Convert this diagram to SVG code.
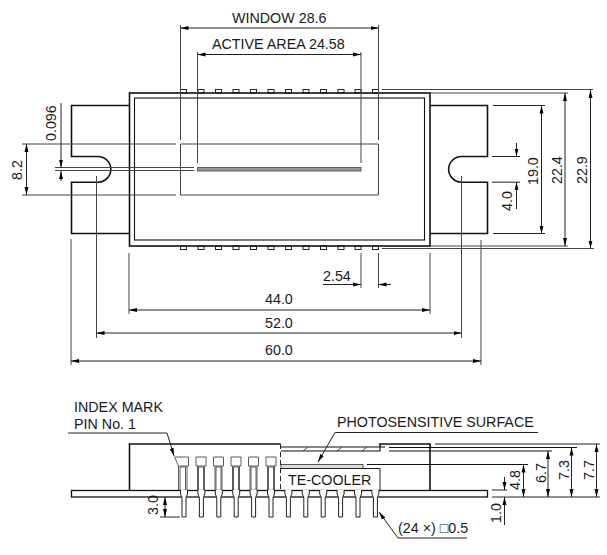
<svg xmlns="http://www.w3.org/2000/svg" xmlns:xlink="http://www.w3.org/1999/xlink" width="607" height="555" viewBox="0 0 607 555">
<style>
text{font-family:"Liberation Sans",Arial,sans-serif;font-size:14.3px;fill:#1a1a1a}
.o{fill:none;stroke:#111;stroke-width:1.6}
.b{fill:none;stroke:#111;stroke-width:1.1}
.t{fill:none;stroke:#222;stroke-width:1}
.g{fill:none;stroke:#444;stroke-width:1}
.a{fill:none;stroke:#222;stroke-width:1;marker-end:url(#ah)}
.s{fill:none;stroke:#222;stroke-width:1;marker-start:url(#ah);marker-end:url(#ah)}
</style>
<defs>
<marker id="ah" viewBox="0 0 8 5" refX="8" refY="2.500" markerWidth="8" markerHeight="5" markerUnits="userSpaceOnUse" orient="auto-start-reverse"><path d="M0 .5L8 2.500L0 4.500Z" fill="#000"/></marker>
<g id="tp"><rect x="0" y="0" width="6" height="3.500" fill="#fff" stroke="#222" stroke-width="1"/></g>
<g id="sp"><path fill="none" stroke="#333" stroke-width=".8" d="M-5 9V0H5V9M-5 9H5M-3.500 33V9M3.500 33V9M-2.500 33V10H2.500V33"/></g>
<g id="lead"><path d="M-3.500 490V494L-2 497.500V517H2V497.500L3.500 494V490" fill="#fff" stroke="#222" stroke-width="1"/></g>
</defs>
<g id="top-view">
<g id="pins-top">
<use xlink:href="#tp" x="180.500" y="89.500"/><use xlink:href="#tp" x="198" y="89.500"/><use xlink:href="#tp" x="215.500" y="89.500"/><use xlink:href="#tp" x="233" y="89.500"/><use xlink:href="#tp" x="250.500" y="89.500"/><use xlink:href="#tp" x="268" y="89.500"/><use xlink:href="#tp" x="285.500" y="89.500"/><use xlink:href="#tp" x="303" y="89.500"/><use xlink:href="#tp" x="320.500" y="89.500"/><use xlink:href="#tp" x="338" y="89.500"/><use xlink:href="#tp" x="355" y="89.500"/><use xlink:href="#tp" x="372.500" y="89.500"/>
<use xlink:href="#tp" x="180.500" y="246"/><use xlink:href="#tp" x="198" y="246"/><use xlink:href="#tp" x="215.500" y="246"/><use xlink:href="#tp" x="233" y="246"/><use xlink:href="#tp" x="250.500" y="246"/><use xlink:href="#tp" x="268" y="246"/><use xlink:href="#tp" x="285.500" y="246"/><use xlink:href="#tp" x="303" y="246"/><use xlink:href="#tp" x="320.500" y="246"/><use xlink:href="#tp" x="338" y="246"/><use xlink:href="#tp" x="355" y="246"/><use xlink:href="#tp" x="372.500" y="246"/>
</g>
<path id="flange-left" class="o" d="M129 105.500H71.500V156.500H98A12.800 12.800 0 0 1 98 182.200H71.500V233.500H129"/>
<path id="flange-right" class="o" d="M430 105.500H487.500V156.500H461.500A12.800 12.800 0 0 0 461.500 182.200H487.500V233.500H430"/>
<rect id="body" x="129.500" y="93" width="300.500" height="153" class="o"/>
<rect id="body-inner" x="134.500" y="98" width="290" height="142" class="b"/>
<rect id="active-bar" x="197.500" y="167.500" width="163.500" height="3.500" fill="#999" stroke="#444" stroke-width=".8"/>
</g>
<g id="connectors">
<path class="g" d="M180.500 25V140M378.500 25V140M197.500 52V163M361 52V163M180.500 144V195M378.500 144V195M22 144H176M180.500 144H378.500M22 195H176M180.500 195H378.500M55 167.500H194M55 170.500H194M96.500 176V338M461.500 176V338M71 239V365M481 240V365M129 253V314M430 253V314M361 253V288M378.500 253V288M382 89.500H593M430 93H568M382 248.500H594M430 246H568"/>
<path class="t" d="M493 105.500H545M493 233.500H545M492 156.500H520M492 182.200H520"/>
<path class="s" d="M180.500 28H378.500"/><path class="s" d="M197.500 54.500H361"/>
<path class="s" d="M541.500 105.500V233.500"/><path class="s" d="M565 93V246"/><path class="s" d="M590.500 90V248.500"/>
<path class="s" d="M26.500 144V195"/><path class="s" d="M129 310H430"/><path class="s" d="M96.500 333H461.500"/><path class="s" d="M71 361H481"/>
<path class="a" d="M61 103V167.500"/><path class="a" d="M61 181V171"/>
<path class="a" d="M516.500 143V156.500"/><path class="a" d="M516.500 209V182.200"/>
<path class="a" d="M323 284.500H361"/><path class="a" d="M391 284.500H378.500"/>
</g>
<g id="side-view">
<path id="side-body" class="o" d="M129.500 490V444H280.500M380 447V444H430V490"/>
<rect id="base-plate" x="71.500" y="490.500" width="416" height="6.500" fill="#fff" class="o" style="stroke-width:1.3"/>
<path class="b" d="M281 447H380V451H281M385 447H380M389 447.500H577M389 451H552M367 464.500H528"/>
<path class="g" d="M303 451L308 447M337 451L342 447M362 451L367 447"/>
<path class="t" stroke-dasharray="5 3" d="M280.500 444V490"/>
<rect x="281" y="464.500" width="82" height="4" fill="#ddd" stroke="#333" stroke-width=".8"/>
<path id="te-cooler-box" class="t" d="M281 468.500H380V490"/>
<g id="inner-pins">
<path fill="none" stroke="#333" stroke-width=".8" d="M178.500 490V466L174.500 457H188.500V466H178.500M187 490V466M180 490V467H185.500V490"/>
<use xlink:href="#sp" x="201" y="457"/><use xlink:href="#sp" x="218.500" y="457"/><use xlink:href="#sp" x="236" y="457"/><use xlink:href="#sp" x="253.500" y="457"/><use xlink:href="#sp" x="271" y="457"/>
</g>
<g id="leads">
<use xlink:href="#lead" x="184"/><use xlink:href="#lead" x="201.400"/><use xlink:href="#lead" x="218.800"/><use xlink:href="#lead" x="236.200"/><use xlink:href="#lead" x="253.600"/><use xlink:href="#lead" x="271"/><use xlink:href="#lead" x="288.400"/><use xlink:href="#lead" x="305.800"/><use xlink:href="#lead" x="323.200"/><use xlink:href="#lead" x="340.600"/><use xlink:href="#lead" x="358"/><use xlink:href="#lead" x="375.400"/>
</g>
<path class="t" d="M435 444H600M492 497H600M492 490H507M160 517H180"/>
<path class="s" d="M165 497V517"/><path class="s" d="M596.500 444V497"/><path class="s" d="M571.500 447.500V497"/><path class="s" d="M548 451V497"/><path class="s" d="M523.500 464.500V497"/>
<path class="a" d="M504.500 477V490"/><path class="a" d="M504.500 525V497"/>
<path class="a" d="M68 433H167L174 456"/>
<path class="a" d="M538 432.500H335L318 462"/>
<path class="a" d="M467 538H398L379 512"/>
</g>
<g id="labels">
<text x="232" y="23">WINDOW 28.6</text>
<text x="212" y="49">ACTIVE AREA 24.58</text>
<text x="323" y="281">2.54</text>
<text x="265" y="304">44.0</text>
<text x="265" y="328">52.0</text>
<text x="265" y="355">60.0</text>
<text transform="translate(56 141) rotate(-90)">0.096</text>
<text transform="translate(22 180) rotate(-90)">8.2</text>
<text transform="translate(512 211) rotate(-90)">4.0</text>
<text transform="translate(537.500 185) rotate(-90)">19.0</text>
<text transform="translate(561.500 184) rotate(-90)">22.4</text>
<text transform="translate(587 184) rotate(-90)">22.9</text>
<text x="74" y="412">INDEX MARK</text>
<text x="74" y="429">PIN No. 1</text>
<text x="337" y="427">PHOTOSENSITIVE SURFACE</text>
<text x="288" y="485">TE-COOLER</text>
<text x="398" y="533">(24 ×) □0.5</text>
<text transform="translate(158 515) rotate(-90)">3.0</text>
<text transform="translate(501 523) rotate(-90)">1.0</text>
<text transform="translate(520 490) rotate(-90)">4.8</text>
<text transform="translate(546 483) rotate(-90)">6.7</text>
<text transform="translate(568.500 480) rotate(-90)">7.3</text>
<text transform="translate(593.500 480) rotate(-90)">7.7</text>
</g>
</svg>
